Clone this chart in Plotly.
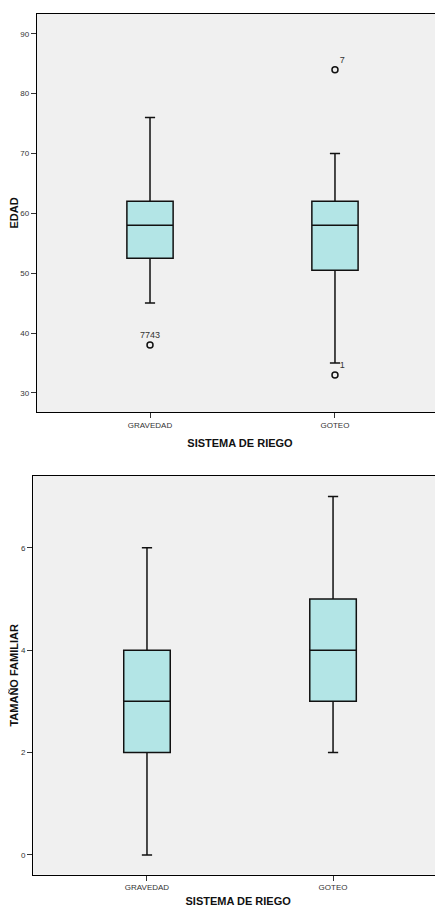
import plotly.graph_objects as go

categories = ["GRAVEDAD", "GOTEO"]

# EDAD box statistics
edad_lower = [45, 35]
edad_q1 = [52.5, 50.5]
edad_median = [58, 58]
edad_q3 = [62, 62]
edad_upper = [76, 70]
edad_outlier_cat = ["GRAVEDAD", "GOTEO", "GOTEO"]
edad_outlier_val = [38, 84, 33]
edad_outlier_lbl = ["7743", "7", "1"]

# TAMAÑO FAMILIAR box statistics
tam_lower = [0, 2]
tam_q1 = [2, 3]
tam_median = [3, 4]
tam_q3 = [4, 5]
tam_upper = [6, 7]

edad_ticks = [30, 40, 50, 60, 70, 80, 90]
tam_ticks = [0, 2, 4, 6]

FONT = "Arial, Liberation Sans, sans-serif"
BOX_FILL = "#B3E5E6"
BG = "#F0F0F0"

W, H = 435, 899  # page body has an 8px margin

fig = go.Figure()

fig.add_trace(go.Box(
    x=categories, q1=edad_q1, median=edad_median, q3=edad_q3,
    lowerfence=edad_lower, upperfence=edad_upper,
    boxpoints=False, width=0.25, whiskerwidth=0.22,
    fillcolor=BOX_FILL, line=dict(color="#111111", width=1.5),
    xaxis="x", yaxis="y", showlegend=False, hoverinfo="skip"))

fig.add_trace(go.Scatter(
    x=edad_outlier_cat, y=edad_outlier_val, text=edad_outlier_lbl,
    mode="markers+text", textposition=["top center", "top right", "top right"],
    textfont=dict(size=9, color="#333333", family=FONT),
    marker=dict(symbol="circle-open", size=6, color="#111111", line=dict(width=1.5)),
    xaxis="x", yaxis="y", showlegend=False, hoverinfo="skip", cliponaxis=False))

fig.add_trace(go.Box(
    x=categories, q1=tam_q1, median=tam_median, q3=tam_q3,
    lowerfence=tam_lower, upperfence=tam_upper,
    boxpoints=False, width=0.25, whiskerwidth=0.22,
    fillcolor=BOX_FILL, line=dict(color="#111111", width=1.5),
    xaxis="x2", yaxis="y2", showlegend=False, hoverinfo="skip"))

axis_common = dict(
    showline=True, linecolor="black", linewidth=1.3,
    ticks="outside", ticklen=5, tickcolor="#333333", tickwidth=1,
    tickfont=dict(size=8, color="#333333", family=FONT),
    showgrid=False, zeroline=False, automargin=False,
)

fig.update_layout(
    width=W, height=H,
    margin=dict(l=0, r=0, t=0, b=0),
    paper_bgcolor="white", plot_bgcolor=BG,
    font=dict(family=FONT),
    xaxis=dict(axis_common, domain=[29/W, 1], anchor="y", mirror=True,
               type="category", categoryorder="array", categoryarray=categories,
               range=[-0.611, 1.584],
               title=dict(text="<b>SISTEMA DE RIEGO</b>", font=dict(size=11, color="#111111"), standoff=10)),
    yaxis=dict(axis_common, domain=[1 - 404/H, 1 - 6/H], anchor="x",
               range=[26.8, 93.3], tickvals=edad_ticks,
               title=dict(text="<b>EDAD</b>", font=dict(size=11, color="#111111"), standoff=3)),
    xaxis2=dict(axis_common, domain=[25.3/W, 1], anchor="y2", mirror=True,
                type="category", categoryorder="array", categoryarray=categories,
                range=[-0.611, 1.591],
                title=dict(text="<b>SISTEMA DE RIEGO</b>", font=dict(size=11, color="#111111"), standoff=9)),
    yaxis2=dict(axis_common, domain=[1 - 866.7/H, 1 - 468/H], anchor="x2",
                range=[-0.385, 7.40], tickvals=tam_ticks,
                title=dict(text="<b>TAMAÑO FAMILIAR</b>", font=dict(size=11, color="#111111"), standoff=2)),
)

fig.write_html("out.html")
